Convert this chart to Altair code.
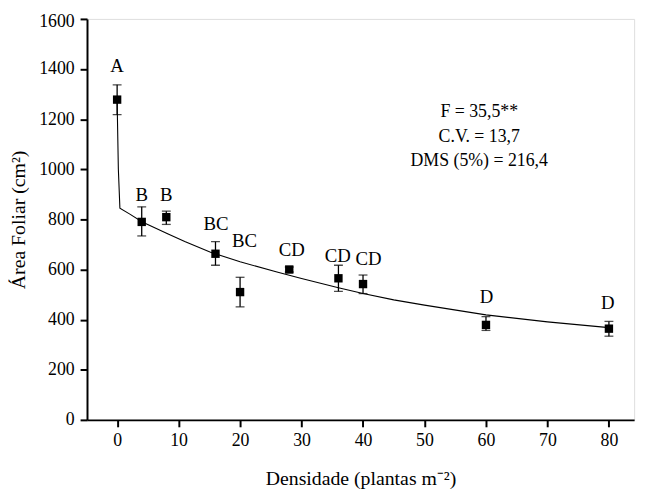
import altair as alt
import pandas as pd

# Observed means and error-bar limits
dens = [0, 4, 8, 16, 20, 28, 36, 40, 60, 80]
area = [1278, 790, 809, 663, 510, 600, 565, 542, 379, 364]
err_lo = [1218, 734, 780, 617, 451, 590, 513, 504, 357, 334]
err_hi = [1337, 850, 833, 711, 569, 610, 617, 578, 412, 393]

# Tukey letters and where they sit
letters = ["A", "B", "B", "BC", "BC", "CD", "CD", "CD", "D", "D"]
letter_x = [0, 4, 8, 16.1, 20.7, 28.4, 35.9, 40.9, 60.1, 79.8]
letter_y = [1411, 897, 897, 780, 715, 678, 652, 641, 490, 468]

# Fitted curve
curve_x = [0, 0.2, 0.45, 2, 4.1, 8.3, 11, 15.2, 20, 26, 30, 36, 40, 45, 50, 60, 70, 80]
curve_y = [1273, 1000, 845, 822, 790, 742, 712, 669, 631, 590, 564, 527, 504, 479, 458, 419, 391, 368]

# Statistics box
stats_text = ["F = 35,5**", "C.V. = 13,7", "DMS (5%) = 216,4"]
stats_x = [58.9, 58.9, 58.9]
stats_y = [1227, 1130, 1032]

FONT = "Liberation Serif"

pts = pd.DataFrame({"x": dens, "y": area, "lo": err_lo, "hi": err_hi})
lab = pd.DataFrame({"x": letter_x, "y": letter_y, "t": letters})
cur = pd.DataFrame({"x": curve_x, "y": curve_y})
sts = pd.DataFrame({"x": stats_x, "y": stats_y, "t": stats_text})

xscale = alt.Scale(domain=[-4.9, 84.1], nice=False, zero=False)
yscale = alt.Scale(domain=[0, 1600], nice=False, zero=False)

xaxis = alt.Axis(
    values=list(range(0, 85, 5)),
    labelExpr="datum.value % 10 === 0 ? datum.label : ''",
    tickSize={"condition": {"test": "datum.value % 10 === 0", "value": 7}, "value": 4},
    tickWidth=2, tickColor="black", domainColor="black", domainWidth=2,
    labelFont=FONT, labelFontSize=18, labelColor="black", labelPadding=5,
    title="Densidade (plantas m⁻²)", titleFont=FONT, titleFontSize=20,
    titleFontWeight="normal", titleColor="black", titlePadding=19,
    grid=False, labelFlush=False, labelOverlap=False,
)
yaxis = alt.Axis(
    values=list(range(0, 1700, 100)),
    labelExpr="datum.value % 200 === 0 ? datum.label : ''",
    format="d",
    tickSize={"condition": {"test": "datum.value % 200 === 0", "value": 7}, "value": 4},
    labelOffset={"condition": {"test": "datum.value === 1600", "value": 3}, "value": 0},
    tickWidth=2, tickColor="black", domainColor="black", domainWidth=2,
    labelFont=FONT, labelFontSize=18, labelColor="black", labelPadding=6,
    title="Área Foliar (cm²)", titleFont=FONT, titleFontSize=20,
    titleFontWeight="normal", titleColor="black", titlePadding=10,
    grid=False, labelFlush=False, labelOverlap=False,
)

X = alt.X("x:Q", scale=xscale, axis=xaxis)
Y = alt.Y("y:Q", scale=yscale, axis=yaxis)

line = alt.Chart(cur).mark_line(color="black", strokeWidth=1.1).encode(x=X, y=Y)

bars = alt.Chart(pts).mark_rule(color="black", strokeWidth=1.3).encode(
    x=alt.X("x:Q", scale=xscale), y=alt.Y("lo:Q", scale=yscale), y2="hi:Q"
)
cap_lo = alt.Chart(pts).mark_tick(color="black", orient="horizontal", size=9, thickness=1.3).encode(
    x=alt.X("x:Q", scale=xscale), y=alt.Y("lo:Q", scale=yscale)
)
cap_hi = alt.Chart(pts).mark_tick(color="black", orient="horizontal", size=9, thickness=1.3).encode(
    x=alt.X("x:Q", scale=xscale), y=alt.Y("hi:Q", scale=yscale)
)
marks = alt.Chart(pts).mark_square(color="black", opacity=1, size=72).encode(
    x=alt.X("x:Q", scale=xscale), y=alt.Y("y:Q", scale=yscale)
)
letters_layer = alt.Chart(lab).mark_text(font=FONT, fontSize=19, color="black").encode(
    x=alt.X("x:Q", scale=xscale), y=alt.Y("y:Q", scale=yscale), text="t:N"
)
stats_layer = alt.Chart(sts).mark_text(font=FONT, fontSize=18, color="black").encode(
    x=alt.X("x:Q", scale=xscale), y=alt.Y("y:Q", scale=yscale), text="t:N"
)

chart = alt.layer(line, bars, cap_lo, cap_hi, marks, letters_layer, stats_layer).properties(
    width=554, height=406,
    autosize=alt.AutoSizeParams(type="none"),
    padding={"left": 80, "top": 8, "right": 10, "bottom": 73},
).configure_view(stroke=None).configure(background="white")

chart.save("out.html", embed_options={"renderer": "svg", "actions": False})
